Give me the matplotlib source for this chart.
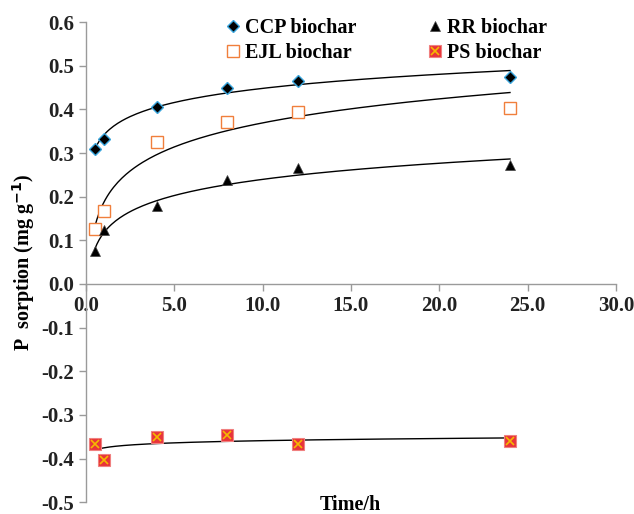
import numpy as np
import matplotlib
matplotlib.use("Agg")
import matplotlib.pyplot as plt
from matplotlib.legend_handler import HandlerTuple

plt.rcParams['font.family'] = ['Liberation Serif', 'DejaVu Serif']
plt.rcParams['font.weight'] = 'bold'

tiempo = [0.5, 1, 4, 8, 12, 24]
ccp = [0.310, 0.333, 0.405, 0.450, 0.465, 0.475]
ejl = [0.125, 0.168, 0.325, 0.371, 0.395, 0.403]
rr = [0.075, 0.123, 0.178, 0.238, 0.265, 0.272]
ps = [-0.367, -0.404, -0.351, -0.345, -0.366, -0.360]

xticks = [0, 5, 10, 15, 20, 25, 30]
yticks = [-0.5, -0.4, -0.3, -0.2, -0.1, 0.0, 0.1, 0.2, 0.3, 0.4, 0.5, 0.6]

fig = plt.figure(figsize=(6.34, 5.14), dpi=100)
ax = fig.add_axes([0.1356, 0.023, 0.836, 0.934])

#tendencias logaritmicas
t = np.array(tiempo)
xs = np.linspace(t.min(), t.max(), 200)
for serie in [ccp, ejl, rr, ps]:
    m, b = np.polyfit(np.log(t), np.array(serie), 1)
    ax.plot(xs, m * np.log(xs) + b, color='black', lw=1.0, zorder=2)

#puntos
h1, = ax.plot(tiempo, ccp, ls='none', marker='D', ms=6, mfc='black', mec='#3aa6dd', mew=1.0, zorder=3)
h2, = ax.plot(tiempo, ejl, ls='none', marker='s', ms=8, mfc='white', mec='#f07f3c', mew=1.0, zorder=3)
h3, = ax.plot(tiempo, rr, ls='none', marker='^', ms=7, mfc='black', mec='#444444', mew=0.5, zorder=3)
h4a, = ax.plot(tiempo, ps, ls='none', marker='s', ms=9, mfc='#e8343a', mec='#f08080', mew=0.8, zorder=3)
h4b, = ax.plot(tiempo, ps, ls='none', marker='x', ms=6, mec='#f5b800', mew=1.2, zorder=4)

ax.legend([h1, h2, h3, (h4a, h4b)], ['CCP biochar', 'EJL biochar', 'RR biochar', 'PS biochar'],
          handler_map={tuple: HandlerTuple(ndivide=1, pad=0)},
          ncol=2, frameon=False, loc='upper left', bbox_to_anchor=(0.251, 1.025),
          fontsize=14.5, handlelength=0.6, handletextpad=0.3, columnspacing=3.6,
          labelspacing=0.22, borderaxespad=0)

ax.set_xlim(0, 30)
ax.set_ylim(-0.5, 0.6)
ax.set_xticks(xticks)
ax.set_xticklabels([f"{v:.1f}" for v in xticks])
ax.set_yticks(yticks)
ax.set_yticklabels([f"{v:.1f}" for v in yticks])

ax.spines['top'].set_visible(False)
ax.spines['right'].set_visible(False)
ax.spines['bottom'].set_position(('data', 0))
for s in ['left', 'bottom']:
    ax.spines[s].set_color('#9a9a9a')
    ax.spines[s].set_linewidth(1.0)
ax.tick_params(axis='both', colors='#9a9a9a', labelcolor='#222222', labelsize=15, length=5, width=1.0)

ax.set_ylabel('P  sorption (mg g$^{\\mathbf{-1}}$)', fontsize=14.5, fontweight='bold', labelpad=3)
fig.text(0.552, 0.018, 'Time/h', fontsize=14.5, fontweight='bold', ha='center', va='center')

fig.savefig('out.png', dpi=100)
